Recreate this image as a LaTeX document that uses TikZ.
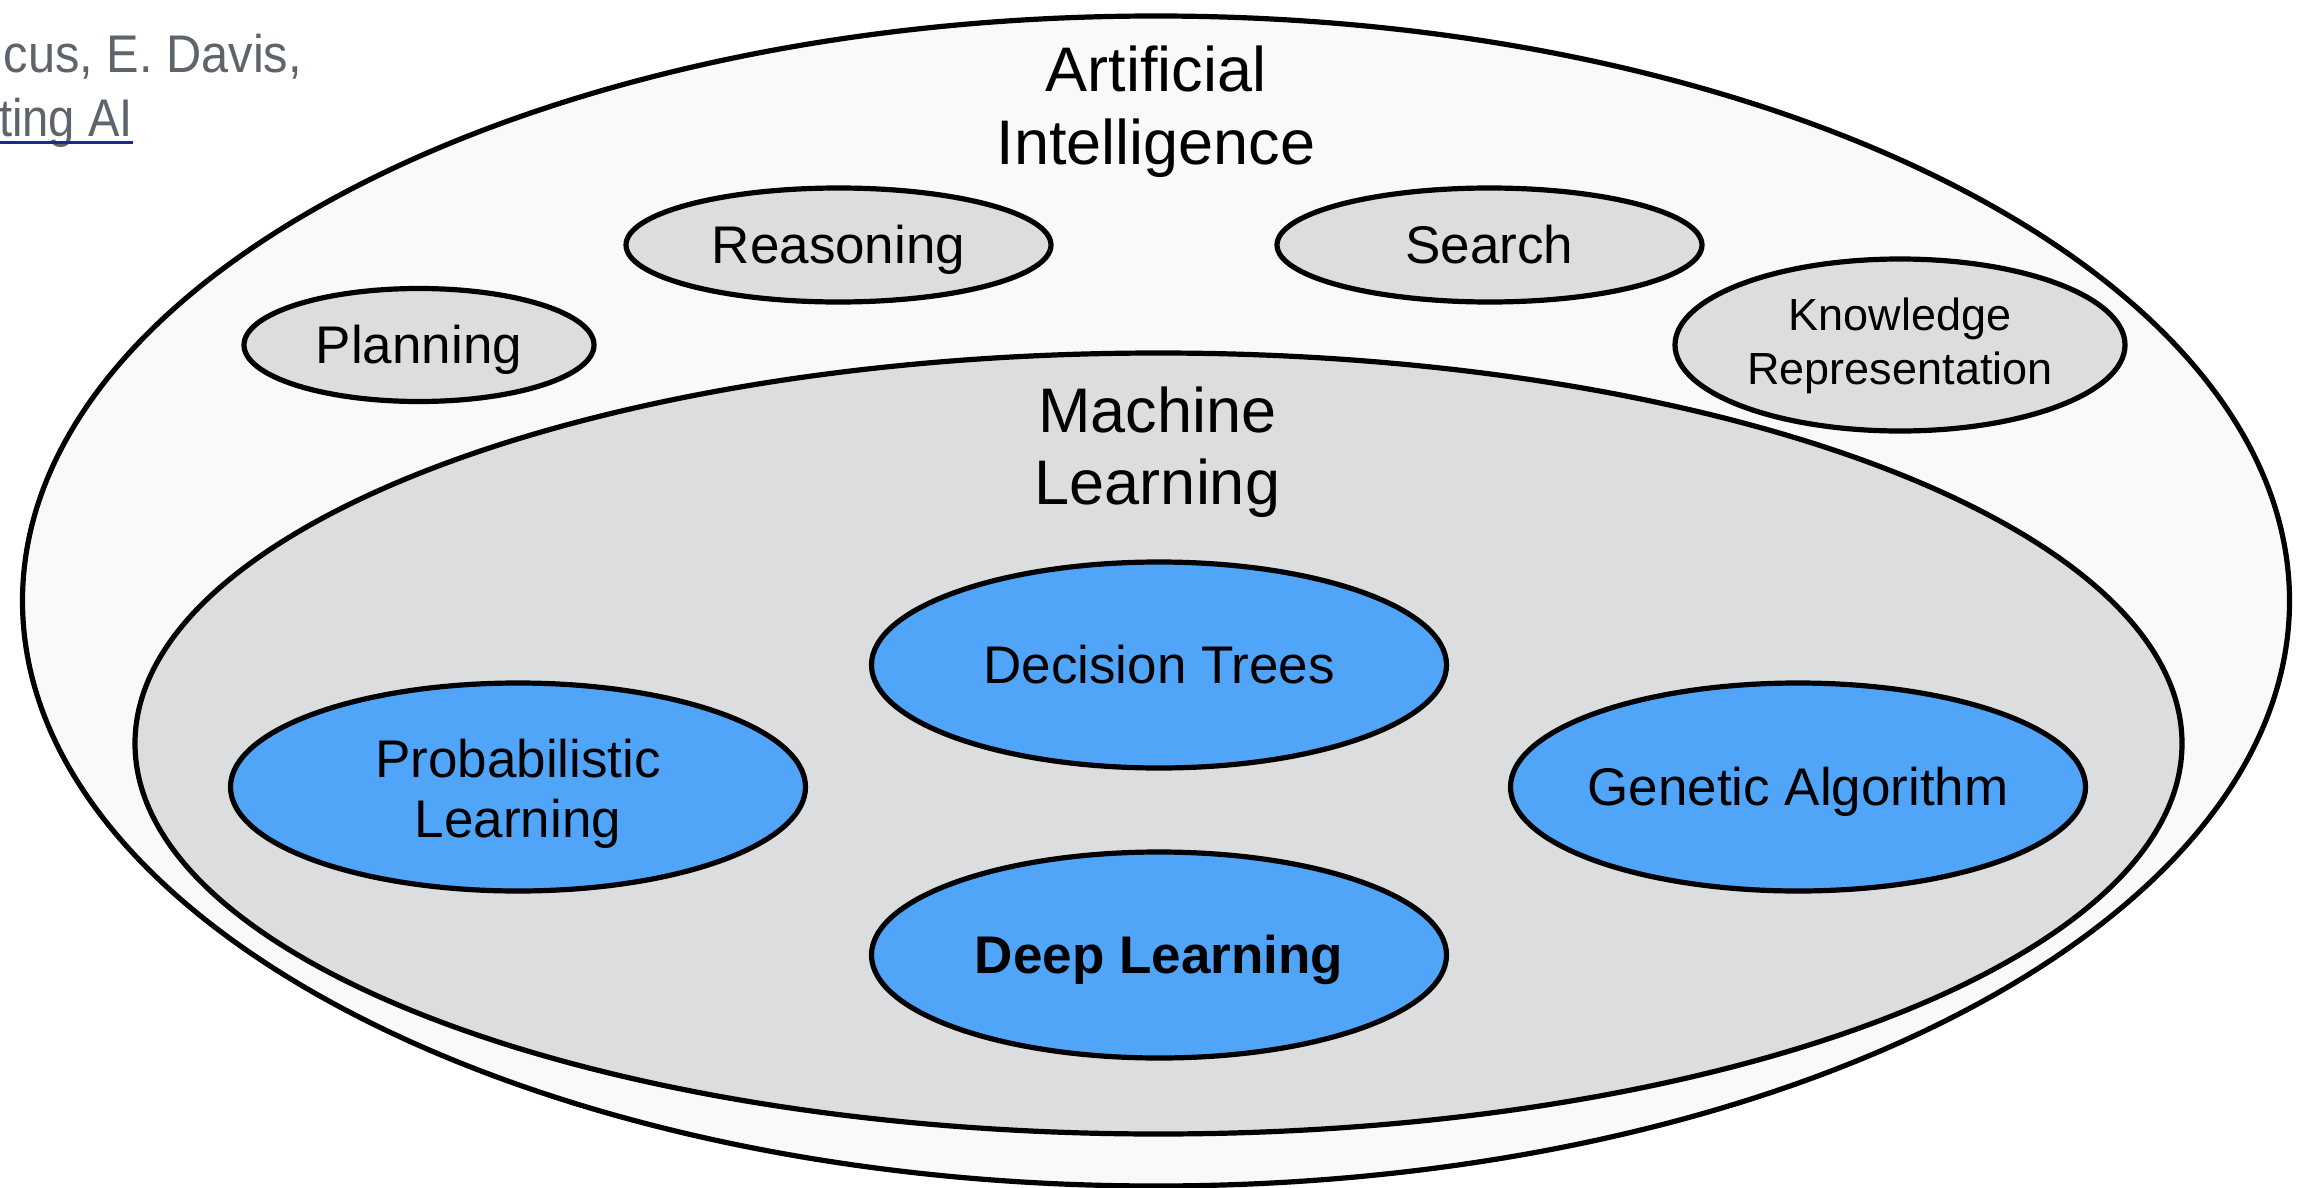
\documentclass[tikz,border=0pt]{standalone}
\usepackage{fontspec}
\setmainfont{Liberation Sans}
\usepackage{graphicx}
\usetikzlibrary{shapes.geometric}
\definecolor{aifill}{HTML}{F9F9F9}
\definecolor{mlfill}{HTML}{DCDDDF}
\definecolor{bluefill}{HTML}{50A5F8}
\definecolor{citegray}{HTML}{5E646C}
\definecolor{linkblue}{HTML}{1A2B8C}
\begin{document}
\begin{tikzpicture}[x=1pt,y=-1pt,
  region/.style={ellipse, draw=black, line width=5.2pt, inner sep=0pt},
  topic/.style={region, fill=mlfill},
  method/.style={region, fill=bluefill, minimum width=575pt, minimum height=206pt},
  oneline/.style={inner sep=0pt, font=\fontsize{53}{60}\selectfont, text height=51.2pt, text depth=13.25pt},
  twoline/.style={inner sep=0pt, align=center},
  cite/.style={inner sep=0pt, anchor=base east, text=citegray, font=\fontsize{53}{60}\selectfont}
]
\useasboundingbox (0,0) rectangle (2299,1188);
\fill[white] (0,0) rectangle (2299,1188);

% regions
\node[region, fill=aifill, minimum width=2267pt, minimum height=1170pt] (ai) at (1156,601) {};
\node[region, fill=mlfill, minimum width=2047pt, minimum height=781pt] (ml) at (1158.5,743.5) {};

% AI topics
\node[topic, minimum width=350pt, minimum height=113pt] (plan) at (419,345) {};
\node[topic, minimum width=425pt, minimum height=114pt] (reas) at (838.5,245) {};
\node[topic, minimum width=425pt, minimum height=114pt] (srch) at (1489.5,245) {};
\node[topic, minimum width=450pt, minimum height=172pt] (know) at (1900,345) {};

% ML methods
\node[method] (dt) at (1159,665) {};
\node[method] (dl) at (1159,955) {};
\node[method, minimum height=208pt] (pl) at (518,787) {};
\node[method, minimum height=208pt] (ga) at (1798,787) {};

% titles
\node[twoline, font=\fontsize{63}{73}\selectfont] (ai-t) at (1156,111.5) {Artificial\\Intelligence};
\node[twoline, font=\fontsize{63}{72}\selectfont] (ml-t) at (1157.5,452.3) {Machine\\Learning};

% labels
\node[oneline] (plan-t) at (plan.center) {Planning};
\node[oneline] (reas-t) at (reas.center) {Reasoning};
\node[oneline] (srch-t) at (srch.center) {Search};
\node[twoline, font=\fontsize{45}{54}\selectfont] (know-t) at (1900,346) {Knowledge\\Representation};
\node[oneline] (dt-t) at (dt.center) {Decision Trees};
\node[oneline, font=\fontsize{53}{60}\selectfont\bfseries] (dl-t) at (dl.center) {Deep Learning};
\node[oneline] (ga-t) at (ga.center) {Genetic Algorithm};
\node[twoline, font=\fontsize{53}{60}\selectfont] (pl-t) at (518,793.3) {Probabilistic\\Learning};

% citation (cut off at the left edge)
\node[cite] (cite1) at (302,73) {\scalebox{0.92}[1]{cus, E. Davis,}};
\node[cite] (cite2) at (133,137) {\scalebox{0.89}[1]{ting AI}};
\draw[linkblue, line width=2.5pt] (0,142.5) -- (cite2.base east |- 0,142.5);
\end{tikzpicture}
\end{document}
